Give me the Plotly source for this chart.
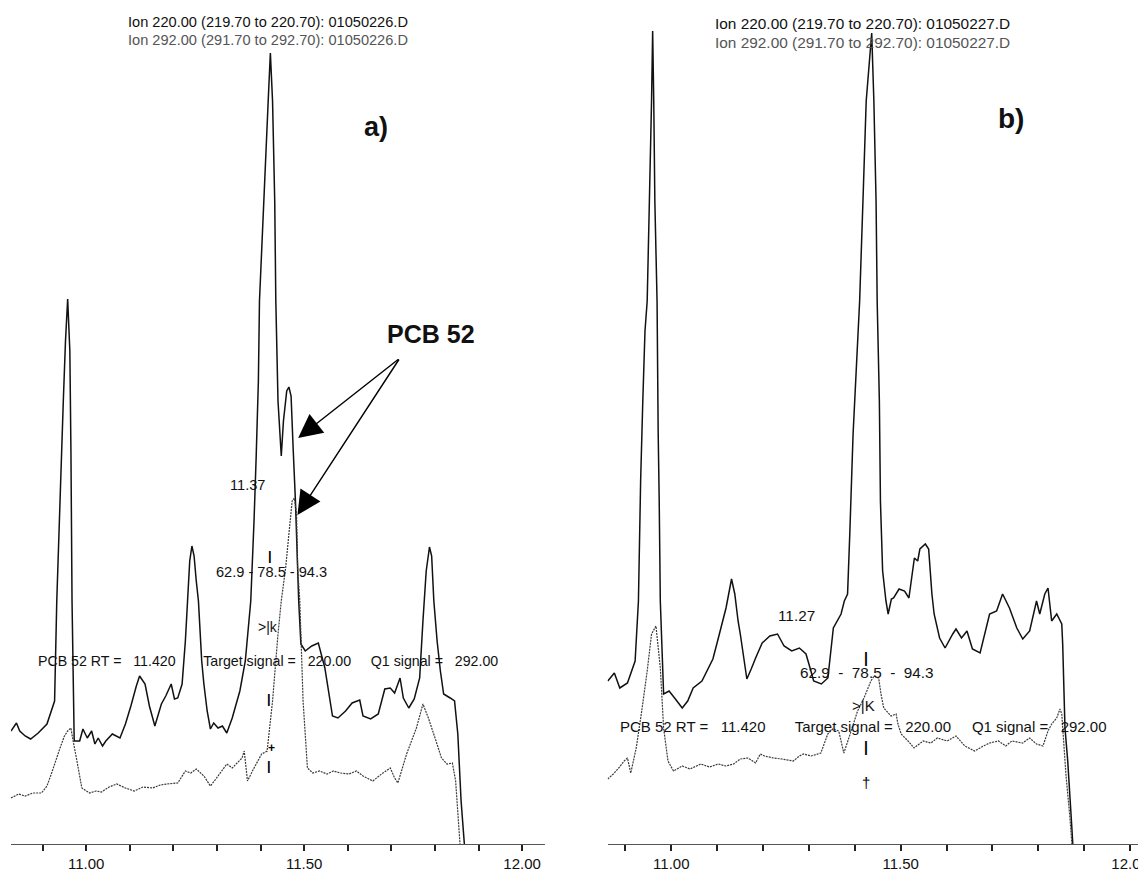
import plotly.graph_objects as go

# ---------------- data (retention time in min, abundance in arbitrary units) ----------------
# Panel a) file 01050226.D
a_t220 = [10.8275, 10.84, 10.8475, 10.86, 10.8725, 10.89, 10.91, 10.9275, 10.9325, 10.94, 10.9475,
          10.9525, 10.9575, 10.9625, 10.965, 10.9675, 10.9725, 10.985, 10.9925, 11.0025, 11.0125,
          11.02, 11.0275, 11.0375, 11.045, 11.06, 11.0775, 11.09, 11.1025, 11.115, 11.1225, 11.135,
          11.145, 11.1575, 11.1725, 11.1825, 11.195, 11.2025, 11.21, 11.22, 11.2275, 11.2325,
          11.2375, 11.2425, 11.2475, 11.2525, 11.2575, 11.265, 11.27, 11.2775, 11.285, 11.2925,
          11.3025, 11.3125, 11.3225, 11.335, 11.3525, 11.365, 11.3775, 11.385, 11.39, 11.395,
          11.3975, 11.4075, 11.4175, 11.4225, 11.4275, 11.4325, 11.435, 11.44, 11.4475, 11.4525,
          11.46, 11.465, 11.47, 11.475, 11.48, 11.4875, 11.4925, 11.5025, 11.5175, 11.5325,
          11.5475, 11.565, 11.5775, 11.595, 11.61, 11.6275, 11.635, 11.6525, 11.67, 11.685,
          11.6975, 11.7075, 11.72, 11.7275, 11.74, 11.7525, 11.765, 11.7725, 11.78, 11.7875,
          11.7925, 11.7975, 11.805, 11.8125, 11.82, 11.8275, 11.835, 11.845, 11.8525, 11.86, 11.8675]
a_i220 = [113, 121, 113, 108, 105, 111, 120, 143, 243, 343, 443,
          503, 545, 493, 393, 243, 103, 103, 115, 106, 113,
          100, 106, 98, 103, 110, 106, 120, 138, 158, 168, 160,
          138, 118, 140, 148, 160, 145, 146, 160, 203, 243,
          283, 298, 288, 263, 243, 183, 160, 133, 115, 121,
          116, 118, 111, 126, 153, 183, 243, 323, 388, 463,
          543, 643, 743, 791, 743, 643, 543, 443, 388, 423,
          453, 457, 448, 393, 343, 243, 200, 193, 198, 201,
          176, 128, 126, 133, 141, 144, 128, 125, 130, 155,
          156, 151, 166, 146, 136, 145, 166, 223, 273, 297,
          288, 243, 203, 173, 150, 148, 146, 143, 110, 43, 0]

a_t292 = [10.8275, 10.845, 10.86, 10.8775, 10.8975, 10.91, 10.92, 10.93, 10.94, 10.95, 10.9575,
          10.965, 10.97, 10.9775, 10.99, 11.0075, 11.0225, 11.035, 11.0525, 11.07, 11.09, 11.11,
          11.13, 11.1525, 11.17, 11.185, 11.21, 11.2275, 11.24, 11.2525, 11.27, 11.285, 11.3025,
          11.3225, 11.335, 11.3575, 11.3625, 11.37, 11.385, 11.4025, 11.415, 11.4275, 11.44,
          11.4475, 11.4575, 11.465, 11.4725, 11.4775, 11.4825, 11.485, 11.49, 11.4975, 11.5075,
          11.52, 11.535, 11.5525, 11.5675, 11.5825, 11.6025, 11.62, 11.635, 11.6575, 11.6775,
          11.6975, 11.7075, 11.715, 11.735, 11.7575, 11.7725, 11.785, 11.8025, 11.815, 11.8275,
          11.84, 11.8475, 11.8575]
a_i292 = [46, 50, 48, 51, 51, 58, 70, 83, 96, 108, 113,
          116, 103, 86, 56, 51, 53, 52, 57, 60, 56, 53,
          57, 56, 59, 60, 61, 73, 71, 75, 68, 58, 68,
          80, 76, 86, 93, 63, 76, 90, 93, 143, 210,
          243, 276, 310, 343, 346, 330, 276, 243, 143, 76,
          71, 73, 70, 73, 71, 70, 73, 68, 63, 70,
          76, 66, 61, 90, 116, 140, 126, 103, 86, 80,
          81, 63, 0]

# Panel b) file 01050227.D
b_t220 = [10.8616, 10.8759, 10.8878, 10.9045, 10.9212, 10.9284, 10.9332, 10.9379, 10.9427, 10.9475,
          10.9523, 10.957, 10.9594, 10.9618, 10.9642, 10.969, 10.9714, 10.9737, 10.9761, 10.9833,
          10.9952, 11.0072, 11.0239, 11.0358, 11.0477, 11.0668, 11.0907, 11.1026, 11.1193, 11.1313,
          11.1384, 11.1456, 11.1504, 11.1647, 11.1742, 11.1838, 11.1981, 11.2148, 11.2315, 11.2458,
          11.2625, 11.2792, 11.2936, 11.3031, 11.3103, 11.327, 11.3413, 11.3532, 11.37, 11.3771,
          11.3842, 11.389, 11.3962, 11.4105, 11.4177, 11.4248, 11.4368, 11.4415, 11.4463, 11.4487,
          11.4535, 11.4558, 11.4606, 11.4678, 11.4726, 11.4797, 11.4845, 11.4964, 11.5084, 11.5179,
          11.5298, 11.537, 11.5418, 11.5537, 11.5609, 11.568, 11.5728, 11.5847, 11.5967, 11.6134,
          11.6205, 11.6325, 11.6444, 11.6563, 11.673, 11.6937, 11.709, 11.722, 11.737, 11.753,
          11.766, 11.781, 11.796, 11.803, 11.814, 11.821, 11.829, 11.840, 11.851, 11.853,
          11.858, 11.864, 11.873, 11.875]
b_i220 = [163, 171, 156, 161, 183, 243, 363, 443, 513, 543,
          643, 743, 813, 743, 643, 543, 413, 343, 243, 150,
          153, 146, 136, 143, 156, 163, 185, 206, 236, 265,
          250, 223, 210, 165, 175, 186, 201, 208, 210, 198,
          193, 196, 190, 175, 163, 160, 166, 216, 230, 243,
          250, 310, 410, 543, 643, 743, 811, 743, 643, 543,
          443, 343, 273, 243, 230, 245, 246, 255, 253, 246,
          286, 283, 295, 300, 295, 250, 230, 206, 196, 210,
          215, 206, 213, 195, 191, 230, 233, 250, 236, 216,
          205, 213, 243, 230, 250, 256, 223, 230, 220, 200,
          116, 83, 16, 0]

b_t292 = [10.8616, 10.8735, 10.8854, 10.8974, 10.9045, 10.9117, 10.9236, 10.9356, 10.9475, 10.957,
          10.9666, 10.9761, 10.9833, 10.9928, 11.0048, 11.0239, 11.0406, 11.0644, 11.0835, 11.1026,
          11.1193, 11.136, 11.1504, 11.167, 11.1838, 11.194, 11.2029, 11.223, 11.2411, 11.266,
          11.2792, 11.288, 11.305, 11.326, 11.341, 11.352, 11.365, 11.376, 11.387, 11.406,
          11.420, 11.435, 11.442, 11.452, 11.457, 11.463, 11.479, 11.490, 11.494, 11.501,
          11.516, 11.529, 11.5489, 11.5656, 11.5799, 11.6014, 11.6205, 11.6396, 11.6611, 11.6802,
          11.694, 11.713, 11.729, 11.742, 11.766, 11.781, 11.796, 11.810, 11.821, 11.829,
          11.840, 11.847, 11.851, 11.860, 11.869, 11.873]
b_i292 = [65, 70, 76, 83, 86, 71, 96, 133, 173, 210,
          218, 176, 116, 83, 73, 78, 75, 80, 77, 80,
          78, 80, 85, 86, 81, 90, 88, 86, 85, 83,
          88, 90, 88, 91, 110, 115, 113, 91, 106, 133,
          146, 163, 168, 166, 150, 136, 128, 130, 120, 110,
          103, 96, 103, 101, 106, 103, 108, 98, 93, 98,
          101, 103, 98, 103, 101, 106, 100, 98, 113, 120,
          126, 135, 130, 70, 25, 0]

tick_vals = [10.9, 11.0, 11.1, 11.2, 11.3, 11.4, 11.5, 11.6, 11.7, 11.8, 11.9, 12.0]
tick_text = ["", "11.00", "", "", "", "", "11.50", "", "", "", "", "12.00"]

FONT = "Liberation Sans, Arial, sans-serif"
NB = "\u00a0"
W, H = 1146, 870
OFF = 8  # the page body adds an 8 px margin; figure coordinates are shifted to compensate

fig = go.Figure()
for xs, ys, xa, ya, solid in [(a_t220, a_i220, "x", "y", True), (a_t292, a_i292, "x", "y", False),
                              (b_t220, b_i220, "x2", "y2", True), (b_t292, b_i292, "x2", "y2", False)]:
    fig.add_trace(go.Scatter(
        x=xs, y=ys, xaxis=xa, yaxis=ya, mode="lines", showlegend=False, hoverinfo="skip",
        line=dict(color="#111111", width=1.5, simplify=False) if solid
        else dict(color="#3a3a3a", width=1.2, dash="2px,1px", simplify=False)))

def txt(x, y, s, size, xr="x", yr="y", color="#111111", bold=False):
    return dict(x=x, y=y, xref=xr, yref=yr, text=("<b>%s</b>" % s) if bold else s,
                showarrow=False, xanchor="center", yanchor="middle",
                font=dict(family=FONT, size=size, color=color))

stat_line = ("PCB 52 RT =" + NB * 3 + "11.420" + NB * 7 + "Target signal =" + NB * 3 + "220.00"
             + NB * 5 + "Q1 signal =" + NB * 3 + "292.00")

ann = [
    # panel a
    txt(11.417, 822, "Ion 220.00 (219.70 to 220.70): 01050226.D", 14.6),
    txt(11.417, 804, "Ion 292.00 (291.70 to 292.70): 01050226.D", 14.6, color="#555555"),
    txt(11.665, 717, "a)", 27, bold=True),
    txt(11.791, 510, "PCB 52", 25, bold=True),
    txt(11.370, 359, "11.37", 14.6),
    txt(11.422, 289, "|", 13, color="#000000", bold=True),
    txt(11.426, 272, "62.9 - 78.5 - 94.3", 14.6),
    txt(11.416, 217, ">|k", 14),
    txt(11.418, 183, stat_line, 14.2),
    txt(11.420, 146, "|", 13, color="#000000", bold=True),
    txt(11.424, 96, "+", 12, color="#000000", bold=True),
    txt(11.420, 79, "|", 13, color="#000000", bold=True),
    # panel b
    txt(11.4165, 821, "Ion 220.00 (219.70 to 220.70): 01050227.D", 15.4, "x2", "y2"),
    txt(11.4165, 802, "Ion 292.00 (291.70 to 292.70): 01050227.D", 15.4, "x2", "y2", color="#555555"),
    txt(11.740, 726, "b)", 28, "x2", "y2", bold=True),
    txt(11.272, 229, "11.27", 15.3, "x2", "y2"),
    txt(11.425, 186, "|", 14, "x2", "y2", color="#000000", bold=True),
    txt(11.4275, 172, "62.9" + NB * 2 + "-" + NB * 2 + "78.5" + NB * 2 + "-" + NB * 2 + "94.3", 15.3, "x2", "y2"),
    txt(11.419, 139, ">|K", 15, "x2", "y2"),
    txt(11.420, 118, stat_line, 15, "x2", "y2"),
    txt(11.425, 97, "|", 14, "x2", "y2", color="#000000", bold=True),
    txt(11.425, 62, "\u2020", 15, "x2", "y2", color="#000000"),
]
# PCB 52 arrows
for hx, hy in [(11.4862, 406), (11.4846, 329)]:
    ann.append(dict(x=hx, y=hy, xref="x", yref="y", ax=11.7197, ay=486, axref="x", ayref="y",
                    text="", showarrow=True, arrowhead=2, arrowsize=3.4, arrowwidth=1.4,
                    arrowcolor="#000000"))

axis_common = dict(showgrid=False, zeroline=False, showline=True, linecolor="#555555", linewidth=1,
                   ticks="outside", ticklen=6, tickwidth=1.5, tickcolor="#222222",
                   tickmode="array", tickvals=tick_vals, ticktext=tick_text,
                   tickfont=dict(family=FONT, size=15, color="#111111"),
                   ticklabeloverflow="allow", fixedrange=True)
# baseline at screen row 844, 1 unit = 1 px
base_fig = 844 - OFF
yaxis_common = dict(visible=False, range=[0, base_fig], domain=[(H - base_fig) / H, 1], fixedrange=True)

fig.update_layout(
    width=W, height=H, margin=dict(l=0, r=0, t=0, b=0),
    paper_bgcolor="white", plot_bgcolor="white",
    xaxis=dict(domain=[(11 - OFF) / W, (545 - OFF) / W], range=[10.8275, 12.0525], anchor="y", **axis_common),
    yaxis=dict(anchor="x", **yaxis_common),
    xaxis2=dict(domain=[(607.5 - OFF) / W, 1.0], range=[10.861, 12.052], anchor="y2", **axis_common),
    yaxis2=dict(anchor="x2", **yaxis_common),
    annotations=ann,
)

fig.write_html("out.html")
